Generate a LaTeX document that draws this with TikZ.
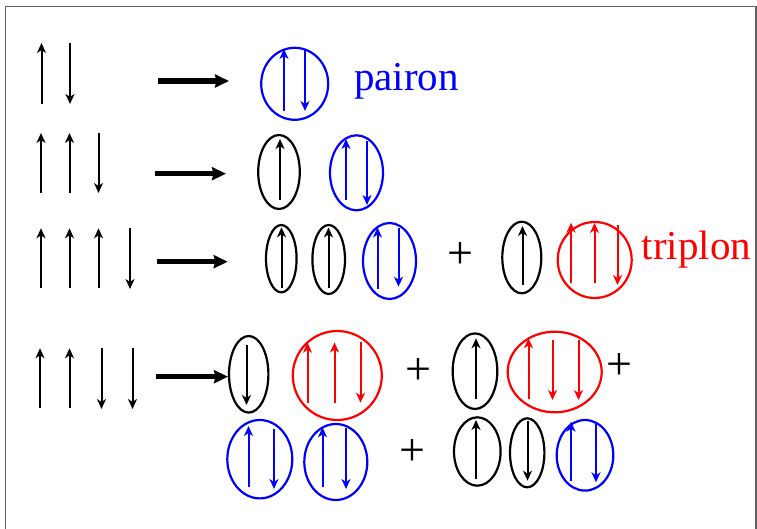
\documentclass[tikz,border=0pt]{standalone}
\usepackage{fontspec}
\setmainfont{Liberation Serif}
\usetikzlibrary{shapes.geometric,arrows.meta}

\definecolor{pblue}{RGB}{0,0,255}
\definecolor{pred}{RGB}{255,0,0}
\definecolor{framegray}{RGB}{95,95,95}

\tikzset{
  spin/.style={line width=2pt, -{Stealth[length=10pt,width=9pt,inset=3pt]}},
  bigarrow/.style={line width=5.5pt, -{Stealth[length=14pt,width=13pt,inset=1.5pt]}},
  blob/.style={draw, ellipse, line width=2.2pt, inner sep=0pt, outer sep=0pt},
  plussign/.style={inner sep=0pt, font=\fontsize{46}{46}\selectfont},
  quasilabel/.style={inner sep=0pt, anchor=base west, font=\fontsize{41}{41}\selectfont},
}

\begin{document}
\begin{tikzpicture}[x=1pt, y=-1pt]
\useasboundingbox (0,0) rectangle (757,529);

% frame
\draw[framegray, line width=1.2pt] (5.5,529) -- (5.5,6.5) -- (756,6.5) -- (756,529);

% ---------- two spins -> pairon ----------
\draw[spin] (41.5,104) -- (41.5,43);
\draw[spin] (70,43) -- (70,104);
\draw[bigarrow] (158,81) -- (229,81);
\node[blob, pblue, minimum width=67pt, minimum height=72pt] (p1) at (294.7,83.8) {};
\draw[spin, pblue] (284,111) -- (284,49);
\draw[spin, pblue] (305,49) -- (305,111);
\node[quasilabel, text=pblue] (pairon) at (354,90.7) {pairon};

% ---------- three spins ----------
\draw[spin] (41,193) -- (41,133);
\draw[spin] (69.5,193) -- (69.5,133);
\draw[spin] (98.5,133) -- (98.5,193);
\draw[bigarrow] (155,173.7) -- (226,173.7);
\node[blob, minimum width=41.6pt, minimum height=74pt] (s2a) at (279,172) {};
\draw[spin] (280,200) -- (280,139);
\node[blob, pblue, minimum width=53pt, minimum height=75pt] (s2b) at (356.5,172.8) {};
\draw[spin, pblue] (346,200) -- (346,139);
\draw[spin, pblue] (367,141) -- (367,205);

% ---------- four spins, one down ----------
\draw[spin] (41,288) -- (41,228.3);
\draw[spin] (69.5,288) -- (69.5,228.3);
\draw[spin] (98.5,288) -- (98.5,228.3);
\draw[spin] (130,228) -- (130,289);
\draw[bigarrow] (157,261.7) -- (227.7,261.7);
\node[blob, minimum width=30.6pt, minimum height=67.4pt] (s3a) at (281.3,258.7) {};
\draw[spin] (281.5,288) -- (281.5,227.3);
\node[blob, minimum width=32.6pt, minimum height=69pt] (s3b) at (328.7,259.5) {};
\draw[spin] (328.5,288) -- (328.5,227.5);
\node[blob, pblue, minimum width=53pt, minimum height=76pt] (s3c) at (389.5,261) {};
\draw[spin, pblue] (377.5,289) -- (377.5,227.5);
\draw[spin, pblue] (398.5,228) -- (398.5,286.7);
\node[plussign] (plus3) at (460,256) {+};
\node[blob, minimum width=39pt, minimum height=71.6pt] (s3d) at (521.8,257.5) {};
\draw[spin] (522.5,285) -- (522.5,226);
\node[blob, pred, minimum width=74pt, minimum height=76pt] (s3e) at (594.7,260) {};
\draw[spin, pred] (571,283.3) -- (571,222.7);
\draw[spin, pred] (594.5,283) -- (594.5,223);
\draw[spin, pred] (617.5,225) -- (617.5,285);
\node[quasilabel, text=pred] (triplon) at (641.7,260) {triplon};

% ---------- four spins, two down ----------
\draw[spin] (40,408.3) -- (40,348.3);
\draw[spin] (69.5,408.3) -- (69.5,348.3);
\draw[spin] (101.5,348) -- (101.5,409);
\draw[spin] (132.5,348) -- (132.5,409);
\draw[bigarrow] (156,376.7) -- (228,376.7);
\node[blob, minimum width=39.4pt, minimum height=76.6pt] (s4a) at (248.7,374.3) {};
\draw[spin] (246.5,345) -- (246.5,405);
\node[blob, pred, minimum width=89pt, minimum height=89pt] (s4b) at (337.3,375.5) {};
\draw[spin, pred] (307.5,402.7) -- (307.5,342.7);
\draw[spin, pred] (334.5,402.7) -- (334.5,342.5);
\draw[spin, pred] (360.5,342) -- (360.5,402.7);
\node[plussign] (plus4a) at (418.3,371.7) {+};
\node[blob, minimum width=44.6pt, minimum height=75.6pt] (s4c) at (475,371.2) {};
\draw[spin] (476,399.3) -- (476,338.3);
\node[blob, pred, minimum width=94pt, minimum height=80.6pt] (s4d) at (554.7,372) {};
\draw[spin, pred] (528.5,399.3) -- (528.5,338.3);
\draw[spin, pred] (552.5,340) -- (552.5,400);
\draw[spin, pred] (578.5,340) -- (578.5,400);
\node[plussign] (plus4b) at (619.3,366.7) {+};

% second line of the two-down case
\node[blob, pblue, minimum width=65pt, minimum height=78.4pt] (s5a) at (259.8,459.2) {};
\draw[spin, pblue] (248.5,486.7) -- (248.5,426);
\draw[spin, pblue] (274,429.3) -- (274,489);
\node[blob, pblue, minimum width=63pt, minimum height=76pt] (s5b) at (335.8,462) {};
\draw[spin, pblue] (322.5,487.3) -- (322.5,427.3);
\draw[spin, pblue] (346,428.3) -- (346,489);
\node[plussign] (plus5) at (412.3,452.3) {+};
\node[blob, minimum width=46.6pt, minimum height=68.4pt] (s5c) at (477.3,451.5) {};
\draw[spin] (476,479.3) -- (476,420);
\node[blob, minimum width=34.4pt, minimum height=69pt] (s5d) at (527.2,452.8) {};
\draw[spin] (527.5,420.7) -- (527.5,480.7);
\node[blob, pblue, minimum width=56.6pt, minimum height=70.6pt] (s5e) at (585,455.3) {};
\draw[spin, pblue] (571,480.7) -- (571,421.7);
\draw[spin, pblue] (596,422.3) -- (596,482.3);
\end{tikzpicture}
\end{document}
